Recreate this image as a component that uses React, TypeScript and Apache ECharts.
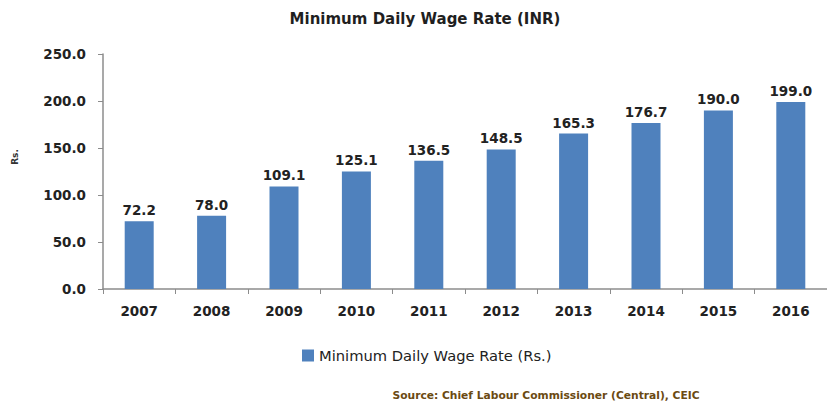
import React, { useEffect, useRef } from "react";
import * as echarts from "echarts";

const years = ["2007", "2008", "2009", "2010", "2011", "2012", "2013", "2014", "2015", "2016"];
const wages = [72.2, 78.0, 109.1, 125.1, 136.5, 148.5, 165.3, 176.7, 190.0, 199.0];
const seriesName = "Minimum Daily Wage Rate (Rs.)";
const titleText = "Minimum Daily Wage Rate (INR)";
const sourceText = "Source: Chief Labour Commissioner (Central), CEIC";
const yName = "Rs.";

const FONT = "'DejaVu Sans', sans-serif";

export default function App() {
  const ref = useRef<HTMLDivElement>(null);
  useEffect(() => {
    if (!ref.current) return;
    const chart = echarts.init(ref.current, undefined, { renderer: "svg" });
    chart.setOption({
      animation: false,
      backgroundColor: "#ffffff",
      title: [
        {
          text: titleText,
          left: 420,
          textAlign: "center",
          top: 6,
          textStyle: { fontFamily: FONT, fontSize: 15, fontWeight: "bold", color: "#1f1f1f" },
        },
        {
          text: sourceText,
          left: 541,
          textAlign: "center",
          top: 385,
          textStyle: { fontFamily: FONT, fontSize: 10.7, fontWeight: "bold", color: "#6b4a12" },
        },
      ],
      legend: {
        data: [seriesName],
        left: 297,
        top: 343,
        itemWidth: 12,
        itemHeight: 12,
        itemGap: 4,
        icon: "rect",
        textStyle: { fontFamily: FONT, fontSize: 14.7, color: "#222" },
      },
      graphic: [
        {
          type: "text",
          x: 15,
          y: 157,
          rotation: Math.PI / 2,
          style: {
            text: yName,
            font: "bold 9px 'DejaVu Sans', sans-serif",
            fill: "#333",
            align: "center",
            verticalAlign: "middle",
          },
        },
      ],
      grid: { left: 103, right: -13, top: 54, bottom: 115, containLabel: false },
      xAxis: {
        type: "category",
        data: years,
        axisLine: { lineStyle: { color: "#8c8c8c", width: 1.5 } },
        axisTick: { show: true, length: 5, lineStyle: { color: "#8c8c8c" } },
        axisLabel: { fontFamily: FONT, fontSize: 13.5, fontWeight: "bold", color: "#222", margin: 15 },
      },
      yAxis: {
        type: "value",
        min: 0,
        max: 250,
        interval: 50,
        axisLine: { show: true, lineStyle: { color: "#8c8c8c", width: 1.5 } },
        axisTick: { show: true, length: 5, lineStyle: { color: "#8c8c8c" } },
        splitLine: { show: false },
        axisLabel: {
          fontFamily: FONT,
          fontSize: 13.5,
          fontWeight: "bold",
          color: "#222",
          margin: 17,
          formatter: (v: number) => v.toFixed(1),
        },
      },
      series: [
        {
          name: seriesName,
          type: "bar",
          data: wages,
          barWidth: 29,
          itemStyle: { color: "#4f81bd" },
          label: {
            show: true,
            position: "top",
            distance: 4,
            fontFamily: FONT,
            fontSize: 13.5,
            fontWeight: "bold",
            color: "#222",
            formatter: (p: any) => Number(p.value).toFixed(1),
          },
        },
      ],
    });
    return () => chart.dispose();
  }, []);
  return <div ref={ref} style={{ width: 827, height: 404, position: "absolute", left: 0, top: 0 }} />;
}
